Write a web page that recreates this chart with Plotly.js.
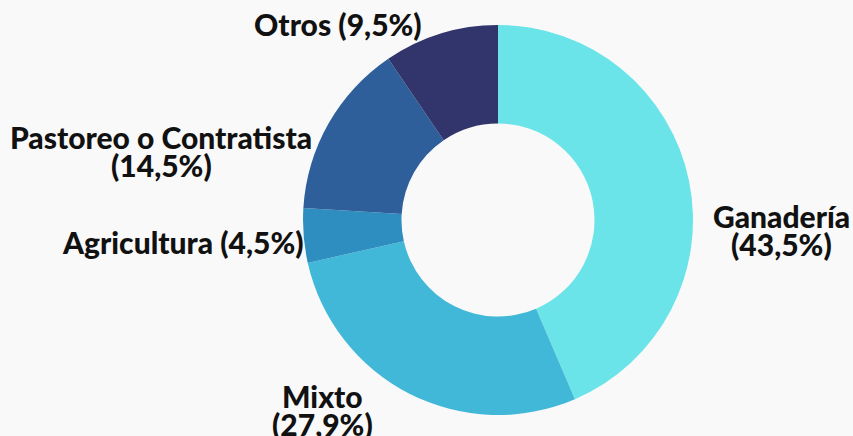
<!DOCTYPE html>
<html>
<head>
<meta charset="utf-8">
<script src="https://cdn.plot.ly/plotly-3.0.1.min.js"></script>
<style>html,body{margin:0;padding:0;background:#f9f9f9;}#chart{width:853px;height:436px;}</style>
</head>
<body>
<div id="chart"></div>
<script>
const categories = ["Ganadería", "Mixto", "Agricultura", "Pastoreo o Contratista", "Otros"];
const shares = [43.5, 27.9, 4.5, 14.5, 9.5];
const colors = ["#6ae4e8", "#42b8d8", "#2e8ec0", "#2e5f9b", "#31356b"];

// label placement (pixels in the 853x436 figure): centre x, cap-centre y of first line, two lines?
const labelX = [781, 322, 183, 161, 338];
const labelY = [216, 396, 242, 137, 24];
const labelSplit = [true, true, false, true, false];

const W = 853, H = 436, FS = 30, LINE = 28, YOFF = 0;

function pct(v) { return "(" + v.toFixed(1).replace(".", ",") + "%)"; }

const annotations = [];
categories.forEach((c, i) => {
  const lines = labelSplit[i] ? [c, pct(shares[i])] : [c + " " + pct(shares[i])];
  lines.forEach((t, j) => {
    annotations.push({
      text: t, showarrow: false,
      xref: "paper", yref: "paper",
      x: labelX[i] / W, y: 1 - (labelY[i] + j * LINE + YOFF) / H,
      xanchor: "center", yanchor: "middle",
      font: {family: "Lato", size: FS, color: "#111111", weight: 900}
    });
  });
});

const data = [{
  type: "pie",
  labels: categories,
  values: shares,
  textinfo: "none",
  hole: 0.495,
  sort: false,
  direction: "clockwise",
  rotation: 0,
  marker: {colors: colors, line: {width: 0}},
  domain: {x: [200 / W, 796 / W], y: [21 / H, 411 / H]},
  automargin: false,
  showlegend: false
}];

const layout = {
  width: W, height: H,
  margin: {l: 0, r: 0, t: 0, b: 0},
  paper_bgcolor: "#f9f9f9",
  plot_bgcolor: "#f9f9f9",
  showlegend: false,
  annotations: annotations
};

Plotly.newPlot("chart", data, layout, {displayModeBar: false, staticPlot: true});
</script>
</body>
</html>
